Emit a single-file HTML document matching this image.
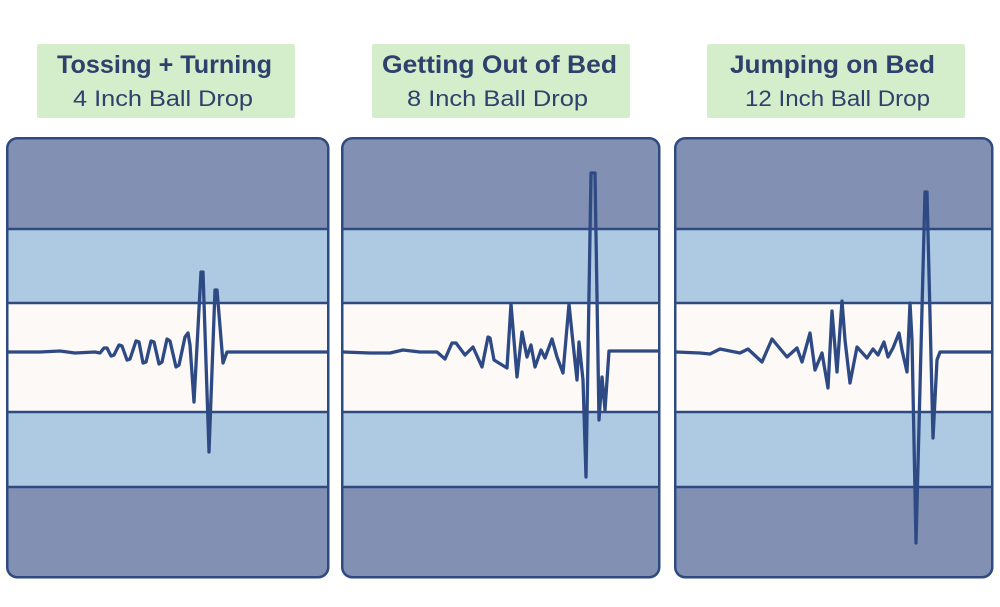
<!DOCTYPE html>
<html>
<head>
<meta charset="utf-8">
<style>
  html,body{margin:0;padding:0;background:#ffffff;}
  svg{display:block;}
  .t{font-family:"Liberation Sans",sans-serif;font-weight:bold;font-size:25px;fill:#2c416c;}
  .s{font-family:"Liberation Sans",sans-serif;font-size:22px;fill:#2c416c;}
</style>
</head>
<body>
<svg width="1000" height="607" viewBox="0 0 1000 607" xmlns="http://www.w3.org/2000/svg">
  <defs>
    <clipPath id="c1"><rect x="7" y="138" width="321" height="439" rx="10"/></clipPath>
    <clipPath id="c2"><rect x="342" y="138" width="317" height="439" rx="10"/></clipPath>
    <clipPath id="c3"><rect x="675" y="138" width="317" height="439" rx="10"/></clipPath>
  </defs>

  <!-- Label boxes -->
  <rect x="37" y="44" width="258" height="74" rx="2" fill="#d4eecb"/>
  <rect x="372" y="44" width="258" height="74" rx="2" fill="#d4eecb"/>
  <rect x="707" y="44" width="258" height="74" rx="2" fill="#d4eecb"/>

  <text class="t" x="57" y="73" textLength="215" lengthAdjust="spacingAndGlyphs">Tossing + Turning</text>
  <text class="s" x="73" y="106" textLength="180" lengthAdjust="spacingAndGlyphs">4 Inch Ball Drop</text>

  <text class="t" x="382" y="73" textLength="235" lengthAdjust="spacingAndGlyphs">Getting Out of Bed</text>
  <text class="s" x="407" y="106" textLength="181" lengthAdjust="spacingAndGlyphs">8 Inch Ball Drop</text>

  <text class="t" x="730" y="73" textLength="205" lengthAdjust="spacingAndGlyphs">Jumping on Bed</text>
  <text class="s" x="745" y="106" textLength="185" lengthAdjust="spacingAndGlyphs">12 Inch Ball Drop</text>

  <!-- Panel 1 -->
  <g clip-path="url(#c1)">
    <rect x="0" y="130" width="340" height="100" fill="#8291b3"/>
    <rect x="0" y="229" width="340" height="75" fill="#aecae2"/>
    <rect x="0" y="303" width="340" height="110" fill="#fcf9f7"/>
    <rect x="0" y="412" width="340" height="76" fill="#aecae2"/>
    <rect x="0" y="487" width="340" height="100" fill="#8291b3"/>
  </g>
  <g stroke="#2e4a80" stroke-width="2.5">
    <line x1="7" y1="229" x2="328" y2="229"/>
    <line x1="7" y1="303" x2="328" y2="303"/>
    <line x1="7" y1="412" x2="328" y2="412"/>
    <line x1="7" y1="487" x2="328" y2="487"/>
  </g>
  <polyline fill="none" stroke="#2e4a85" stroke-width="3.3" stroke-linejoin="round" stroke-linecap="round"
    points="8,352 40,352 60,351 75,353 95,352 100,353 104,348 107,348 111,356 114,355 119,345 122,346 127,360 130,359 136,341 139,342 143,363 146,362 151,341 154,342 159,364 162,362 167,339 170,341 176,367 179,365 185,337 188,333 190,345 194,402 201,272 203,272 209,452 215,290 217,290 223,363 227,352 327,352"/>
  <rect x="7.25" y="138.25" width="321" height="439" rx="10" fill="none" stroke="#2e4a80" stroke-width="2.5"/>

  <!-- Panel 2 -->
  <g clip-path="url(#c2)">
    <rect x="335" y="130" width="330" height="100" fill="#8291b3"/>
    <rect x="335" y="229" width="330" height="75" fill="#aecae2"/>
    <rect x="335" y="303" width="330" height="110" fill="#fcf9f7"/>
    <rect x="335" y="412" width="330" height="76" fill="#aecae2"/>
    <rect x="335" y="487" width="330" height="100" fill="#8291b3"/>
  </g>
  <g stroke="#2e4a80" stroke-width="2.5">
    <line x1="342" y1="229" x2="659" y2="229"/>
    <line x1="342" y1="303" x2="659" y2="303"/>
    <line x1="342" y1="412" x2="659" y2="412"/>
    <line x1="342" y1="487" x2="659" y2="487"/>
  </g>
  <polyline fill="none" stroke="#2e4a85" stroke-width="3.3" stroke-linejoin="round" stroke-linecap="round"
    points="343,352 370,353 390,353 403,350 420,352 437,352 445,359 452,343 456,343 465,355 473,347 482,367 488,337 490,338 494,360 507,368 511,304 517,377 522,332 527,357 531,345 535,367 541,350 545,358 552,339 557,357 563,373 569,304 573,343 577,380 579,342 583,380 586,477 591,173 595,173 599,420 602,377 605,410 609,351 611,351 658,351"/>
  <rect x="342.25" y="138.25" width="317" height="439" rx="10" fill="none" stroke="#2e4a80" stroke-width="2.5"/>

  <!-- Panel 3 -->
  <g clip-path="url(#c3)">
    <rect x="668" y="130" width="330" height="100" fill="#8291b3"/>
    <rect x="668" y="229" width="330" height="75" fill="#aecae2"/>
    <rect x="668" y="303" width="330" height="110" fill="#fcf9f7"/>
    <rect x="668" y="412" width="330" height="76" fill="#aecae2"/>
    <rect x="668" y="487" width="330" height="100" fill="#8291b3"/>
  </g>
  <g stroke="#2e4a80" stroke-width="2.5">
    <line x1="675" y1="229" x2="992" y2="229"/>
    <line x1="675" y1="303" x2="992" y2="303"/>
    <line x1="675" y1="412" x2="992" y2="412"/>
    <line x1="675" y1="487" x2="992" y2="487"/>
  </g>
  <polyline fill="none" stroke="#2e4a85" stroke-width="3.3" stroke-linejoin="round" stroke-linecap="round"
    points="676,352 700,353 710,354 720,349 740,353 748,349 762,362 772,339 787,357 797,348 802,362 810,333 815,370 822,353 828,388 832,311 837,372 842,301 845,340 850,383 857,347 867,358 873,349 878,355 884,342 888,357 893,348 899,333 902,350 907,372 910,303 912,340 916,543 925,192 927,192 933,438 937,360 940,352 992,352"/>
  <rect x="675.25" y="138.25" width="317" height="439" rx="10" fill="none" stroke="#2e4a80" stroke-width="2.5"/>
</svg>
</body>
</html>
